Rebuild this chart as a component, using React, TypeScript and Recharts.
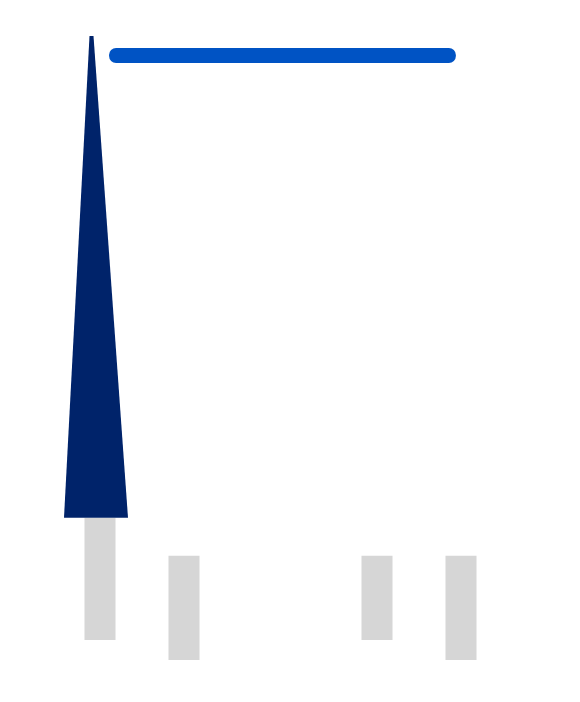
import { ComposedChart, BarChart, Bar, XAxis, YAxis } from "recharts";

// categories and values (value axis runs 0..100)
const categories = ["A", "B"];
const seriesOne: [number, number][] = [[3.2, 22.8], [3.2, 16.7]];
const seriesTwo: [number, number][] = [[0, 16.7], [0, 16.7]];
const spike: ([number, number] | null)[] = [[22.8, 100], null];

const topLabel = ["Total"];
const topRange: [number, number][] = [[18.8, 78.6]];

const NAVY = "#00236A";
const BLUE = "#0053C4";
const GRAY = "#D6D6D6";

const chartData = categories.map((name, i) => ({
  name,
  one: seriesOne[i],
  two: seriesTwo[i],
  spike: spike[i],
}));

const topData = topLabel.map((name, i) => ({ name, range: topRange[i] }));

// tapered bar: narrow flat top that leans a little to the left
function Spike(props: any) {
  const { x, y, width, height } = props;
  if (!height) return null;
  const tip = x + width / 2 - 4.5;
  const d = `M${x},${y + height} L${tip - 2},${y} L${tip + 2},${y} L${x + width},${y + height} Z`;
  return <path d={d} fill={NAVY} />;
}

export default function App() {
  return (
    <div style={{ position: "absolute", left: 0, top: 0, width: 580, height: 702, background: "#fff" }}>
      <div style={{ position: "absolute", left: 0, top: 0 }}>
        <ComposedChart
          width={580}
          height={702}
          data={chartData}
          margin={{ top: 36, right: 0, bottom: 42, left: 0 }}
          barGap={53}
        >
          <XAxis dataKey="name" hide padding={{ left: 3.5, right: 22.5 }} />
          <XAxis xAxisId="spike" dataKey="name" hide padding={{ left: 0, right: 195 }} />
          <YAxis hide domain={[0, 100]} allowDataOverflow />
          <Bar dataKey="one" fill={GRAY} barSize={31} isAnimationActive={false} />
          <Bar dataKey="two" fill={GRAY} barSize={31} isAnimationActive={false} />
          <Bar
            dataKey="spike"
            xAxisId="spike"
            barSize={64}
            shape={Spike}
            isAnimationActive={false}
          />
        </ComposedChart>
      </div>
      <div style={{ position: "absolute", left: 0, top: 0 }}>
        <BarChart
          width={580}
          height={110}
          data={topData}
          layout="vertical"
          margin={{ top: 0, right: 0, bottom: 0, left: 0 }}
        >
          <XAxis type="number" hide domain={[0, 100]} />
          <YAxis type="category" dataKey="name" hide />
          <Bar dataKey="range" fill={BLUE} barSize={15} radius={7} isAnimationActive={false} />
        </BarChart>
      </div>
    </div>
  );
}
